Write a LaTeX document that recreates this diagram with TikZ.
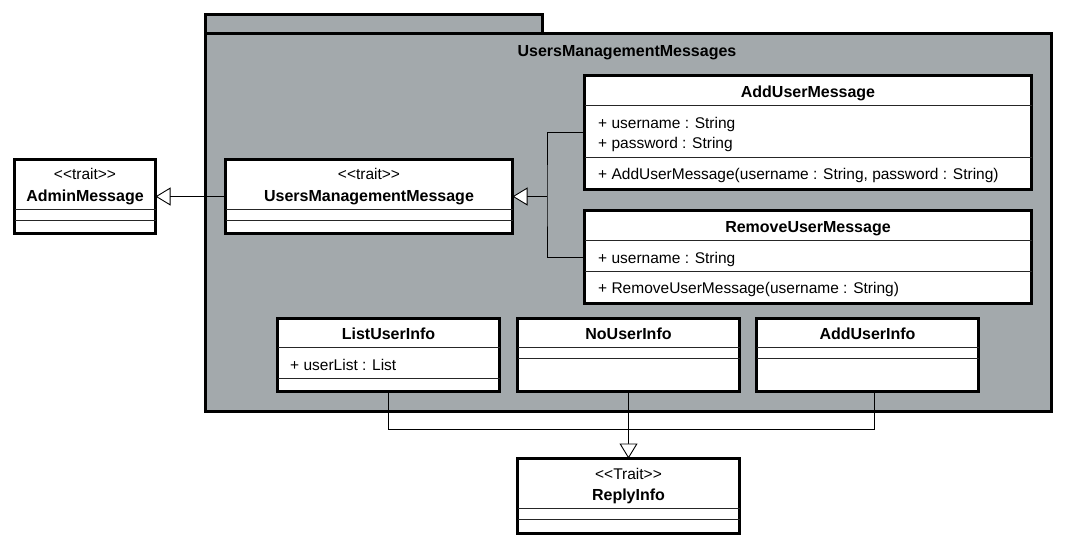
\documentclass[tikz,border=0pt]{standalone}
\usepackage{fontspec}
\setmainfont{Liberation Sans}
\usetikzlibrary{arrows.meta,positioning,calc}
\usepackage{xcolor}
\definecolor{pkggray}{RGB}{163,169,172}
\newcommand\umlfont{\fontsize{15.5}{18}\selectfont}
\newcommand\umlbold{\fontsize{16}{18}\selectfont\bfseries}

\begin{document}
\begin{tikzpicture}[x=1pt, y=-1pt,
    umlbox/.style={draw, line width=2.6pt, fill=white, inner sep=0pt, outer sep=0pt},
    clsname/.style={font=\umlbold, anchor=base, inner sep=0pt},
    stereo/.style={font=\umlfont, anchor=base, inner sep=0pt},
    member/.style={font=\umlfont, anchor=base west, inner sep=0pt},
    sepline/.style={line width=0.9pt, black!85},
    conn/.style={line width=0.9pt},
    gen/.style={conn, -{Triangle[fill=white, length=15pt, width=18pt]}}]
    \useasboundingbox (0,0) rectangle (1066,546);
    % Package with its tab
    \draw[line width=2.6pt, fill=pkggray] (205.5,14.5) rectangle (542.5,33.5);
    \draw[line width=2.6pt, fill=pkggray] (205.5,33.5) rectangle (1051.5,411.5);
    \node[clsname] (pkgname) at (627,56) {UsersManagementMessages};
    % Classes
    \node[umlbox, minimum width=141, minimum height=74] (admin) at (85,196.5) {};
    \node[umlbox, minimum width=287, minimum height=74] (umm) at (369,196.5) {};
    \node[umlbox, minimum width=447, minimum height=114] (addmsg) at (808,132.5) {};
    \node[umlbox, minimum width=447, minimum height=93] (rmmsg) at (808,257) {};
    \node[umlbox, minimum width=222, minimum height=73] (listinfo) at (388.5,355) {};
    \node[umlbox, minimum width=222, minimum height=73] (noinfo) at (628.5,355) {};
    \node[umlbox, minimum width=222, minimum height=73] (adduinfo) at (867.5,355) {};
    \node[umlbox, minimum width=222, minimum height=75] (reply) at (628.5,496) {};
    % Compartment lines
    \foreach \n/\y in {admin/209, admin/220, umm/209, umm/220, addmsg/105, addmsg/157,
                       rmmsg/240, rmmsg/271, listinfo/347, listinfo/378, noinfo/347, noinfo/358,
                       adduinfo/347, adduinfo/358, reply/508, reply/519} {
        \draw[sepline] (\n.west |- 0,\y) -- (\n.east |- 0,\y);
    }
    % Names and stereotypes
    \node[stereo] (admin-st) at (85,179) {<{}<trait>{}>};
    \node[clsname] (admin-nm) at (85,201) {AdminMessage};
    \node[stereo] (umm-st) at (369,179) {<{}<trait>{}>};
    \node[clsname] (umm-nm) at (369,201) {UsersManagementMessage};
    \node[clsname] (addmsg-nm) at (808,97) {AddUserMessage};
    \node[clsname] (rmmsg-nm) at (808,232) {RemoveUserMessage};
    \node[clsname] (listinfo-nm) at (388.5,339) {ListUserInfo};
    \node[clsname] (noinfo-nm) at (628.5,339) {NoUserInfo};
    \node[clsname] (adduinfo-nm) at (867.5,339) {AddUserInfo};
    \node[stereo] (reply-st) at (628.5,479) {<{}<Trait>{}>};
    \node[clsname] (reply-nm) at (628.5,500) {ReplyInfo};
    % Members
    \node[member] (addmsg-a1) at (598,128) {+ username : String};
    \node[member] (addmsg-a2) at (598,148) {+ password : String};
    \node[member] (addmsg-op) at (598,179) {+ AddUserMessage(username : String, password : String)};
    \node[member] (rmmsg-a1) at (598,263) {+ username : String};
    \node[member] (rmmsg-op) at (598,293) {+ RemoveUserMessage(username : String)};
    \node[member] (listinfo-a1) at (290,370) {+ userList : List};
    % Generalizations
    \coordinate (join) at (547,196.5);
    \coordinate (bus) at (874.5,429);
    \draw[conn] (addmsg.west) -| (join) |- (rmmsg.west);
    \draw[gen] (join) -- (umm.east);
    \draw[gen] (umm.west) -- (admin.east);
    \draw[conn] (listinfo.south) |- (bus) -- (bus |- adduinfo.south);
    \draw[gen] (noinfo.south) -- (reply.north);
\end{tikzpicture}
\end{document}
